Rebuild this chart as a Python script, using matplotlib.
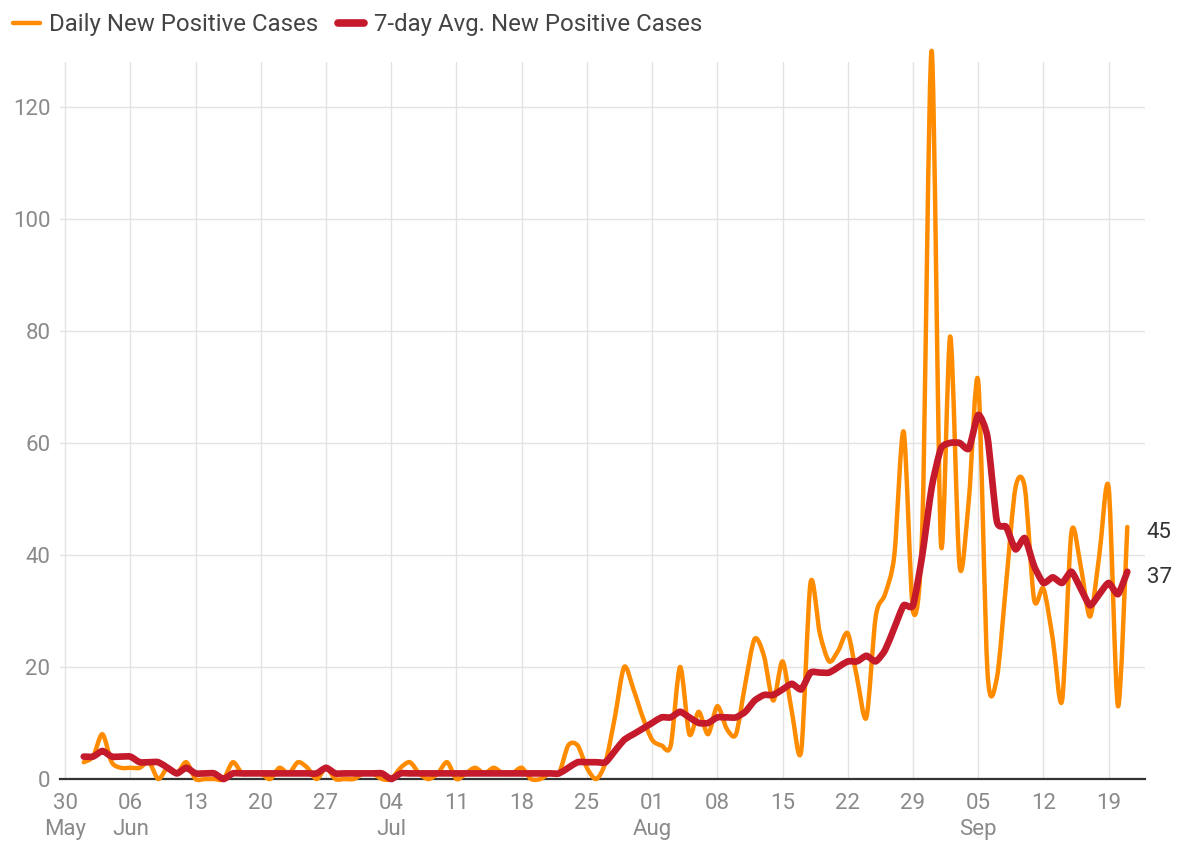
import numpy as np
import pandas as pd
import matplotlib
matplotlib.use("Agg")
import matplotlib.pyplot as plt
import matplotlib.dates as mdates
from matplotlib.path import Path
from matplotlib.patches import PathPatch
from matplotlib.lines import Line2D

plt.rcParams['font.family'] = ['Roboto', 'DejaVu Sans']

# data
dates = pd.date_range('2020-06-01', '2020-09-21', freq='D')

daily_jun = [3, 4, 8, 3, 2, 2, 2, 3, 0, 2, 1, 3, 0, 0, 0, 0, 3, 1, 1, 1,
             0, 2, 1, 3, 2, 0, 2, 0, 0, 0]
daily_jul = [1, 1, 0, 0, 2, 3, 1, 0, 1, 3, 0, 1, 2, 1, 2, 1, 1, 2, 0, 0,
             1, 1, 6, 6, 2, 0, 3, 11, 20, 16, 11]
daily_aug = [7, 6, 6, 20, 8, 12, 8, 13, 9, 8, 17, 25, 22, 14, 21, 12, 5, 35, 26, 21,
             23, 26, 18, 11, 29, 33, 40, 62, 30, 45, 130]
daily_sep = [42, 79, 38, 50, 71, 19, 18, 35, 52, 52, 32, 34, 25, 14, 44, 38, 29, 40, 52, 13,
             45]

avg_jun = [4, 4, 5, 4, 4, 4, 3, 3, 3, 2, 1, 2, 1, 1, 1, 0, 1, 1, 1, 1,
           1, 1, 1, 1, 1, 1, 2, 1, 1, 1]
avg_jul = [1, 1, 1, 0, 1, 1, 1, 1, 1, 1, 1, 1, 1, 1, 1, 1, 1, 1, 1, 1,
           1, 1, 2, 3, 3, 3, 3, 5, 7, 8, 9]
avg_aug = [10, 11, 11, 12, 11, 10, 10, 11, 11, 11, 12, 14, 15, 15, 16, 17, 16, 19, 19, 19,
           20, 21, 21, 22, 21, 23, 27, 31, 31, 40, 52]
avg_sep = [59, 60, 60, 59, 65, 61, 46, 45, 41, 43, 38, 35, 36, 35, 37, 34, 31, 33, 35, 33,
           37]

daily = np.array(daily_jun + daily_jul + daily_aug + daily_sep, dtype=float)
avg7 = np.array(avg_jun + avg_jul + avg_aug + avg_sep, dtype=float)

tick_dates = pd.date_range('2020-05-30', '2020-09-19', freq='7D')
month_first = {'2020-05-30': 'May', '2020-06-06': 'Jun', '2020-07-04': 'Jul',
               '2020-08-01': 'Aug', '2020-09-05': 'Sep'}

ORANGE = '#ff8c00'
RED = '#c41a2c'


def smooth_path(x, y, k=0.85):
    # catmull-rom style bezier through the data points (like google's curved lines)
    verts = [(x[0], y[0])]
    codes = [Path.MOVETO]
    n = len(x)
    for i in range(n - 1):
        x0, y0 = x[max(i - 1, 0)], y[max(i - 1, 0)]
        x1, y1 = x[i], y[i]
        x2, y2 = x[i + 1], y[i + 1]
        x3, y3 = x[min(i + 2, n - 1)], y[min(i + 2, n - 1)]
        c1 = (x1 + k * (x2 - x0) / 6, y1 + k * (y2 - y0) / 6)
        c2 = (x2 - k * (x3 - x1) / 6, y2 - k * (y3 - y1) / 6)
        verts += [c1, c2, (x2, y2)]
        codes += [Path.CURVE4] * 3
    return Path(verts, codes)


W, H = 1179, 844
fig = plt.figure(figsize=(W / 100, H / 100), dpi=100)
ax = fig.add_axes([60 / W, 1 - 779 / H, (1145 - 60) / W, (779 - 62) / H])

xnum = mdates.date2num(dates)
x0 = mdates.date2num(pd.Timestamp('2020-05-30'))
ax.set_xlim(x0 - 0.55, x0 + 115.9)
ax.set_ylim(0, 128)

ax.add_patch(PathPatch(smooth_path(xnum, daily), fill=False, edgecolor=ORANGE, lw=3.2,
                       capstyle='round', joinstyle='round', clip_on=False, zorder=3))
ax.add_patch(PathPatch(smooth_path(xnum, avg7, 0.6), fill=False, edgecolor=RED, lw=4.8,
                       capstyle='round', joinstyle='round', clip_on=False, zorder=4))

ax.set_yticks(np.arange(0, 121, 20))
ax.set_xticks(mdates.date2num(tick_dates))
labels = []
for d in tick_dates:
    key = d.strftime('%Y-%m-%d')
    lab = d.strftime('%d')
    if key in month_first:
        lab += '\n' + month_first[key]
    labels.append(lab)
ax.set_xticklabels(labels)

ax.grid(True, color='#e3e3e3', lw=1)
ax.set_axisbelow(True)
for s in ['top', 'right', 'left']:
    ax.spines[s].set_visible(False)
ax.spines['bottom'].set_color('#333333')
ax.spines['bottom'].set_linewidth(1.6)
ax.tick_params(length=0, labelsize=16, colors='#8a8a8a')
ax.tick_params(axis='x', pad=10)
ax.tick_params(axis='y', pad=7)
for t in ax.get_xticklabels():
    t.set_linespacing(1.3)

# end labels
for v in [daily[-1], avg7[-1]]:
    ax.annotate('{:.0f}'.format(v), xy=(xnum[-1], v), xytext=(14, -4),
                textcoords='offset points', va='center', ha='left', fontsize=16,
                color='#333333', annotation_clip=False)

handles = [Line2D([], [], color=ORANGE, lw=3.2, solid_capstyle='round'),
           Line2D([], [], color=RED, lw=5.5, solid_capstyle='round')]
fig.legend(handles, ['Daily New Positive Cases', '7-day Avg. New Positive Cases'],
           loc='upper left', bbox_to_anchor=(0.0, 1.0), ncol=2, frameon=False,
           fontsize=17.3, handlelength=1.1, handletextpad=0.4, columnspacing=0.8,
           labelcolor='#444444', borderaxespad=0.15)

fig.savefig('out.png', dpi=100)
